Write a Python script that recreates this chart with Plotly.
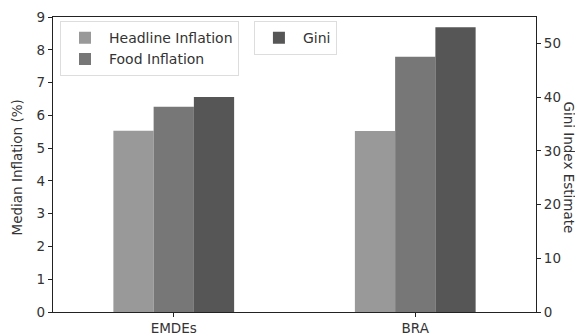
import plotly.graph_objects as go

categories = ["EMDEs", "BRA"]
headline_inflation = [5.53, 5.52]
food_inflation = [6.26, 7.79]
gini = [40.0, 53.0]

left_ticks = [0, 1, 2, 3, 4, 5, 6, 7, 8, 9]
right_ticks = [0, 10, 20, 30, 40, 50]

c_head = "#999999"
c_food = "#777777"
c_gini = "#565656"
font_fam = "DejaVu Sans"
txt = "#333333"
w = 1 / 6
fs = 13.5

fig = go.Figure()
fig.add_trace(go.Bar(x=categories, y=headline_inflation, name="Headline Inflation",
                     marker=dict(color=c_head, line=dict(width=0)), width=w, offset=-0.25,
                     legend="legend"))
fig.add_trace(go.Bar(x=categories, y=food_inflation, name="Food Inflation",
                     marker=dict(color=c_food, line=dict(width=0)), width=w, offset=-0.25 + w,
                     legend="legend"))
fig.add_trace(go.Bar(x=categories, y=gini, name="Gini", yaxis="y2",
                     marker=dict(color=c_gini, line=dict(width=0)), width=w, offset=-0.25 + 2 * w,
                     legend="legend2"))

axis_common = dict(showline=True, linecolor="#222222", linewidth=1.2, ticks="outside",
                   ticklen=4, tickcolor="#222222", showgrid=False, zeroline=False,
                   automargin=False,
                   tickfont=dict(family=font_fam, size=fs, color=txt))

# page body has an 8px margin, so the figure is sized to fill the rest of the window
fig.update_layout(
    width=575, height=325,
    margin=dict(l=45, r=47, t=9, b=21),
    paper_bgcolor="white", plot_bgcolor="white",
    barmode="overlay",
    font=dict(family=font_fam, color=txt),
    xaxis=dict(type="category", range=[-0.5, 1.5], mirror=True, **axis_common),
    yaxis=dict(range=[0, 9], tickvals=left_ticks, **axis_common),
    yaxis2=dict(range=[0, 54.9], tickvals=right_ticks, overlaying="y", side="right",
                **axis_common),
    showlegend=True,
    legend=dict(x=0.0145, y=0.986, xanchor="left", yanchor="top", bgcolor="white",
                bordercolor="#dddddd", borderwidth=1,
                font=dict(family=font_fam, size=14, color=txt), tracegroupgap=0,
                itemwidth=38),
    legend2=dict(x=0.416, y=0.986, xanchor="left", yanchor="top", bgcolor="white",
                 bordercolor="#dddddd", borderwidth=1,
                 font=dict(family=font_fam, size=14, color=txt), itemwidth=38),
    annotations=[
        dict(text="Median Inflation (%)", textangle=-90, x=-0.0745, y=0.49,
             xref="paper", yref="paper", showarrow=False, xanchor="center", yanchor="middle",
             font=dict(family=font_fam, size=fs, color=txt)),
        dict(text="Gini Index Estimate", textangle=90, x=1.0, xshift=33, y=0.49,
             xref="paper", yref="paper", showarrow=False, xanchor="center", yanchor="middle",
             font=dict(family=font_fam, size=fs, color=txt)),
    ],
)

fig.write_html("out.html")
